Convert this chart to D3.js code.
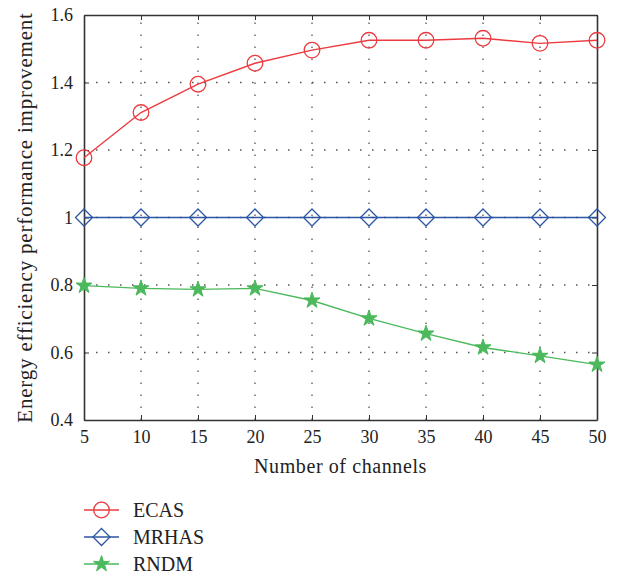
<!DOCTYPE html>
<html>
<head>
<meta charset="utf-8">
<script src="https://cdn.jsdelivr.net/npm/d3@7"></script>
<style>
  body { margin: 0; background: #fff; }
  text { font-family: "Liberation Serif", "DejaVu Serif", serif; fill: #222; }
</style>
</head>
<body>
<div id="chart"></div>
<script>
var width = 623
var height = 576
var margin = { top: 15, right: 26, bottom: 156, left: 84 };

// data
var channels = [5, 10, 15, 20, 25, 30, 35, 40, 45, 50];
var ecas = [1.177, 1.311, 1.395, 1.457, 1.496, 1.525, 1.525, 1.531, 1.516, 1.525];
var mrhas = [1, 1, 1, 1, 1, 1, 1, 1, 1, 1];
var rndm = [0.798, 0.790, 0.787, 0.790, 0.754, 0.701, 0.656, 0.615, 0.590, 0.564];
var yTicks = [0.4, 0.6, 0.8, 1, 1.2, 1.4, 1.6];
var seriesNames = ["ECAS", "MRHAS", "RNDM"];

var series = [
    { name: seriesNames[0], values: ecas, color: "#ec3b3f", marker: "circle" },
    { name: seriesNames[1], values: mrhas, color: "#2c56a3", marker: "diamond" },
    { name: seriesNames[2], values: rndm, color: "#4bb95c", marker: "star" }
];

var svg = d3.select("#chart").append("svg")
    .attr("width", width)
    .attr("height", height);

var x = d3.scaleLinear()
    .domain([5, 50])
    .range([margin.left, width - margin.right]);
var y = d3.scaleLinear()
    .domain([0.4, 1.6])
    .range([height - margin.bottom, margin.top]);

// dotted grid
var grid = svg.append("g").attr("class", "grid")
    .attr("stroke", "#555").attr("stroke-width", 1.3)
    .attr("stroke-dasharray", "1.5,10.5");
grid.selectAll(".gx").data(channels.slice(1, -1)).enter().append("line")
    .attr("x1", function(d) { return x(d); }).attr("x2", function(d) { return x(d); })
    .attr("y1", y(0.4)).attr("y2", y(1.6));
grid.selectAll(".gy").data(yTicks.slice(1, -1)).enter().append("line")
    .attr("x1", x(5)).attr("x2", x(50))
    .attr("y1", function(d) { return y(d); }).attr("y2", function(d) { return y(d); });

// axes
svg.append("g")
    .attr("transform", "translate(0," + y(0.4) + ")")
    .call(d3.axisBottom(x).tickValues(channels).tickSize(-5).tickPadding(10).tickSizeOuter(0));
svg.append("g")
    .attr("transform", "translate(" + x(5) + ",0)")
    .call(d3.axisLeft(y).tickValues(yTicks).tickSize(-5).tickPadding(11).tickSizeOuter(0)
        .tickFormat(function(d) { return d === 1 ? "1" : d3.format(".1f")(d); }));
svg.append("g")
    .attr("transform", "translate(0," + y(1.6) + ")")
    .call(d3.axisTop(x).tickValues(channels).tickSize(-5).tickFormat("").tickSizeOuter(0));
svg.append("g")
    .attr("transform", "translate(" + x(50) + ",0)")
    .call(d3.axisRight(y).tickValues(yTicks).tickSize(-5).tickFormat("").tickSizeOuter(0));

svg.selectAll(".domain").attr("stroke", "#333").attr("stroke-width", 1.6);
svg.selectAll(".tick line").attr("stroke", "#333");
svg.selectAll(".tick text")
    .attr("font-size", 18)
    .style("font-family", '"Liberation Serif", serif')
    .attr("fill", "#222");

// axis titles
svg.append("text")
    .attr("x", (x(5) + x(50)) / 2)
    .attr("y", 473)
    .attr("text-anchor", "middle")
    .attr("font-size", 20)
    .attr("letter-spacing", 0.6)
    .text("Number of channels");
svg.append("text")
    .attr("transform", "translate(32," + (y(1.6) + y(0.4)) / 2 + ") rotate(-90)")
    .attr("text-anchor", "middle")
    .attr("font-size", 21)
    .attr("letter-spacing", 0.8)
    .text("Energy efficiency performance improvement");

function drawMarker(g, type, color) {
    if (type === "circle") {
        g.append("circle").attr("r", 7.8)
            .attr("fill", "none").attr("stroke", color).attr("stroke-width", 1.3);
    } else if (type === "diamond") {
        g.append("path").attr("d", "M0,-8.5L8.5,0L0,8.5L-8.5,0Z")
            .attr("fill", "none").attr("stroke", color).attr("stroke-width", 1.3);
    } else {
        g.append("path").attr("d", d3.symbol().type(d3.symbolStar).size(80)())
            .attr("fill", color).attr("stroke", color).attr("stroke-width", 1);
    }
}

var line = d3.line()
    .x(function(d, i) { return x(channels[i]); })
    .y(function(d) { return y(d); });

series.forEach(function(s) {
    svg.append("path")
        .datum(s.values)
        .attr("fill", "none")
        .attr("stroke", s.color)
        .attr("stroke-width", 1.4)
        .attr("d", line);
    s.values.forEach(function(v, i) {
        var g = svg.append("g").attr("transform", "translate(" + x(channels[i]) + "," + y(v) + ")");
        drawMarker(g, s.marker, s.color);
    });
});

// legend
var legend = svg.append("g").attr("transform", "translate(84,510)");
series.forEach(function(s, i) {
    var row = legend.append("g").attr("transform", "translate(0," + i * 27 + ")");
    row.append("line").attr("x1", 0).attr("x2", 35).attr("y1", 0).attr("y2", 0)
        .attr("stroke", s.color).attr("stroke-width", 1.4);
    var m = row.append("g").attr("transform", "translate(17.5,0)");
    drawMarker(m, s.marker, s.color);
    row.append("text").attr("x", 49).attr("y", 7)
        .attr("font-size", 20)
        .text(s.name);
});
</script>
</body>
</html>
